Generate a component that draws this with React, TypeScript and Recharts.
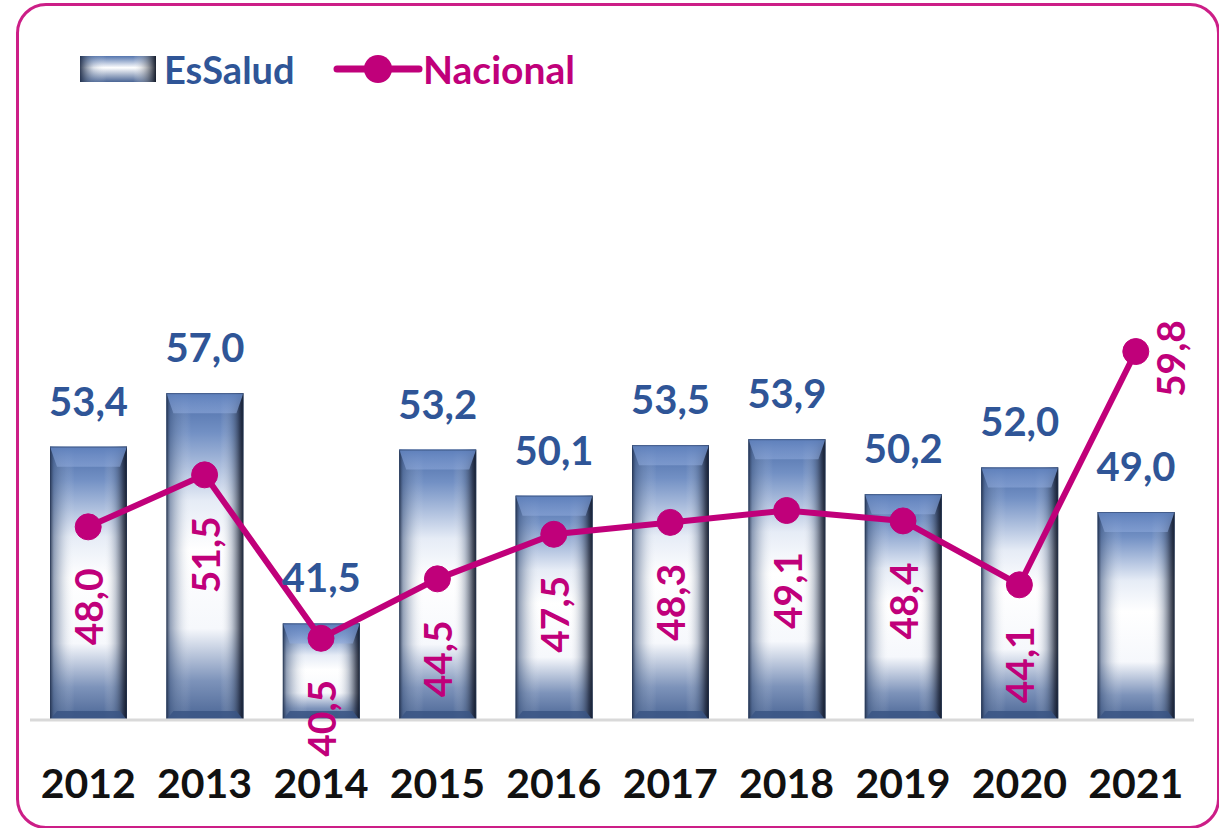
import React from 'react';
import { ComposedChart, Bar, Line, XAxis, YAxis, LabelList } from 'recharts';

const years = ['2012', '2013', '2014', '2015', '2016', '2017', '2018', '2019', '2020', '2021'];
const essalud = [53.4, 57.0, 41.5, 53.2, 50.1, 53.5, 53.9, 50.2, 52.0, 49.0];
const nacional = [48.0, 51.5, 40.5, 44.5, 47.5, 48.3, 49.1, 48.4, 44.1, 59.8];

const data = years.map((year, i) => ({ year, essalud: essalud[i], nacional: nacional[i] }));

const BLUE = '#2F5597';
const MAGENTA = '#C0007A';
const FONT = 'Lato, "Open Sans", sans-serif';

const fmt = (v: number) => v.toFixed(1).replace('.', ',');

// Excel-like bevelled bar
const BevelBar = (props: any) => {
  const { x, y, width, height } = props;
  if (!height || height <= 0) return null;
  const t = Math.min(20, height * 0.25);
  const bb = Math.min(9, height * 0.12);
  const s = 7;
  return (
    <g>
      <rect x={x} y={y} width={width} height={height} fill="url(#barV)" />
      <rect x={x} y={y} width={width} height={height} fill="url(#barH)" />
      <polygon
        points={`${x},${y} ${x + width},${y} ${x + width - s},${y + t} ${x + s},${y + t}`}
        fill="url(#bevelTop)"
      />
      <polygon
        points={`${x},${y + height} ${x + width},${y + height} ${x + width - s},${y + height - bb} ${x + s},${y + height - bb}`}
        fill="#3A5584"
        opacity={0.85}
      />
      <rect x={x + 0.5} y={y + 0.5} width={width - 1} height={height - 1} fill="none" stroke="#2A3C5E" strokeOpacity={0.5} />
    </g>
  );
};

const BarValueLabel = (props: any) => {
  const { x, y, width, value } = props;
  return (
    <text x={x + width / 2} y={y - 31} textAnchor="middle" fill={BLUE} fontFamily={FONT} fontWeight={700} fontSize={40}>
      {fmt(value)}
    </text>
  );
};

const LineValueLabel = (props: any) => {
  const { x, y, value, index } = props;
  const last = index === nacional.length - 1;
  const cx = last ? x + 34 : x;
  const cy = last ? y + 7 : y + 80;
  return (
    <text
      x={cx}
      y={cy}
      transform={`rotate(-90, ${cx}, ${cy})`}
      textAnchor="middle"
      dominantBaseline="central"
      fill={MAGENTA}
      fontFamily={FONT}
      fontWeight={700}
      fontSize={39}
    >
      {fmt(value)}
    </text>
  );
};

const YearTick = (props: any) => {
  const { x, y, payload } = props;
  return (
    <text x={x} y={y + 78} textAnchor="middle" fill="#111" fontFamily={FONT} fontWeight={700} fontSize={41}>
      {payload.value}
    </text>
  );
};

const ChartLegend = () => (
  <svg width={600} height={60} style={{ display: 'block', overflow: 'visible' }}>
    <defs>
      <linearGradient id="barVL" x1="0" y1="0" x2="0" y2="1">
        <stop offset="0%" stopColor="#5475AE" />
        <stop offset="45%" stopColor="#FFFFFF" />
        <stop offset="100%" stopColor="#4A6595" />
      </linearGradient>
      <linearGradient id="barHL" x1="0" y1="0" x2="1" y2="0">
        <stop offset="0%" stopColor="#1E2B45" stopOpacity={0.9} />
        <stop offset="18%" stopColor="#7A8CA8" stopOpacity={0.25} />
        <stop offset="35%" stopColor="#FFFFFF" stopOpacity={0} />
        <stop offset="70%" stopColor="#FFFFFF" stopOpacity={0} />
        <stop offset="100%" stopColor="#0E1422" stopOpacity={0.95} />
      </linearGradient>
    </defs>
    <rect x={0} y={8} width={76} height={26} fill="url(#barVL)" />
    <rect x={0} y={8} width={76} height={26} fill="url(#barHL)" />
    <text x={84} y={36} fill={BLUE} fontFamily={FONT} fontWeight={700} fontSize={38}>
      EsSalud
    </text>
    <line x1={257} y1={21} x2={339} y2={21} stroke={MAGENTA} strokeWidth={7} strokeLinecap="round" />
    <circle cx={298} cy={21} r={14} fill={MAGENTA} />
    <text x={343} y={36} fill={MAGENTA} fontFamily={FONT} fontWeight={700} fontSize={39}>
      Nacional
    </text>
  </svg>
);

export default function App() {
  return (
    <div style={{ position: 'absolute', left: 0, top: 0, width: 1219, height: 828, background: '#fff', overflow: 'hidden' }}>
      <div
        style={{
          position: 'absolute',
          left: 16,
          top: 3,
          width: 1198,
          height: 820,
          border: '3px solid #CC1E87',
          borderRadius: 30,
        }}
      />
      <div style={{ position: 'absolute', left: 80, top: 48 }}>
        <ChartLegend />
      </div>
      <div style={{ position: 'absolute', left: 0, top: 0 }}>
        <ComposedChart
          width={1219}
          height={828}
          data={data}
          margin={{ top: 200, right: 25, left: 30, bottom: 0 }}
          barSize={77}
        >
          <defs>
            <linearGradient id="barV" x1="0" y1="0" x2="0" y2="1">
              <stop offset="0%" stopColor="#4A6BA6" />
              <stop offset="12%" stopColor="#7290C4" />
              <stop offset="33%" stopColor="#E6ECF6" />
              <stop offset="48%" stopColor="#FFFFFF" />
              <stop offset="72%" stopColor="#F6F8FC" />
              <stop offset="88%" stopColor="#7D93BA" />
              <stop offset="100%" stopColor="#4A6595" />
            </linearGradient>
            <linearGradient id="barH" x1="0" y1="0" x2="1" y2="0">
              <stop offset="0%" stopColor="#1E2B45" stopOpacity={0.9} />
              <stop offset="5%" stopColor="#41587F" stopOpacity={0.55} />
              <stop offset="18%" stopColor="#7A8CA8" stopOpacity={0.22} />
              <stop offset="32%" stopColor="#FFFFFF" stopOpacity={0} />
              <stop offset="70%" stopColor="#FFFFFF" stopOpacity={0} />
              <stop offset="85%" stopColor="#5A6A85" stopOpacity={0.35} />
              <stop offset="95%" stopColor="#1C2438" stopOpacity={0.75} />
              <stop offset="100%" stopColor="#0E1422" stopOpacity={0.95} />
            </linearGradient>
            <linearGradient id="bevelTop" x1="0" y1="0" x2="0" y2="1">
              <stop offset="0%" stopColor="#5E80BC" stopOpacity={0.95} />
              <stop offset="100%" stopColor="#8FAADC" stopOpacity={0.55} />
            </linearGradient>
          </defs>
          <XAxis
            dataKey="year"
            height={108}
            tickSize={0}
            tickMargin={0}
            tickLine={false}
            axisLine={{ stroke: '#D9D9D9', strokeWidth: 3 }}
            tick={<YearTick />}
            interval={0}
          />
          <YAxis hide domain={[35, 70]} allowDataOverflow />
          <Bar dataKey="essalud" name="EsSalud" shape={<BevelBar />} isAnimationActive={false}>
            <LabelList dataKey="essalud" content={<BarValueLabel />} />
          </Bar>
          <Line
            dataKey="nacional"
            name="Nacional"
            type="linear"
            stroke={MAGENTA}
            strokeWidth={6}
            dot={{ r: 13, fill: MAGENTA, stroke: MAGENTA, strokeWidth: 1 }}
            activeDot={false}
            isAnimationActive={false}
          >
            <LabelList dataKey="nacional" content={<LineValueLabel />} />
          </Line>
        </ComposedChart>
      </div>
    </div>
  );
}
